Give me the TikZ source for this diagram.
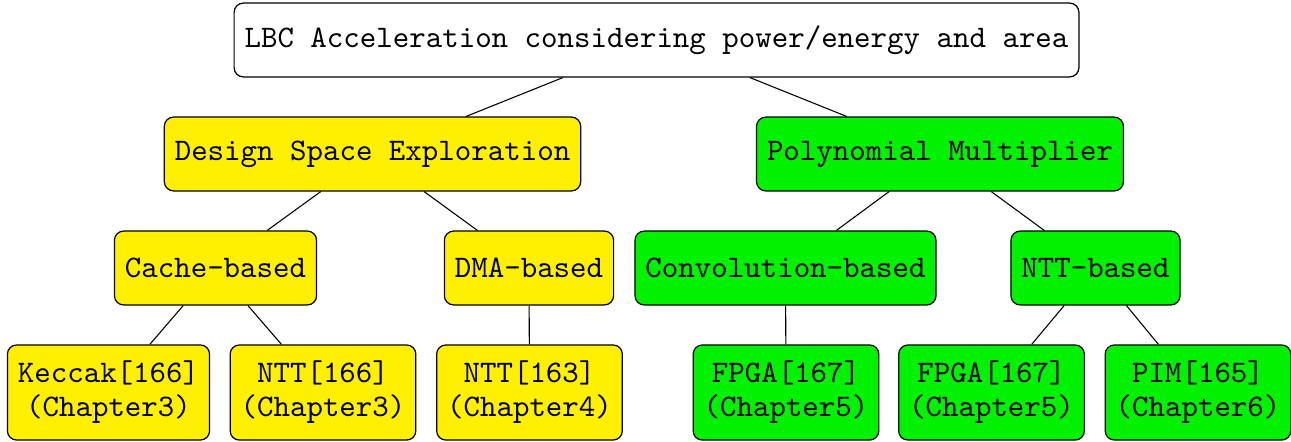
\documentclass[tikz,border=0pt]{standalone}
\usetikzlibrary{positioning}
\definecolor{boxyellow}{RGB}{255,240,0}
\definecolor{boxgreen}{RGB}{0,242,0}
\tikzset{
  box/.style={draw=black, rounded corners=3pt, inner xsep=3.4pt, inner ysep=0pt,
    minimum height=24pt, font=\fontsize{10.2}{11.1}\selectfont\ttfamily, align=center},
  rootbox/.style={box, fill=white},
  ybox/.style={box, fill=boxyellow},
  gbox/.style={box, fill=boxgreen},
  leaf/.style={minimum height=30.9pt},
  link/.style={draw=black, line width=0.35pt}
}
\begin{document}
\begin{tikzpicture}[x=0.325pt, y=-0.325pt]
\useasboundingbox (0,0) rectangle (1291,441);
% root
\node[rootbox] (root) at (656.5,40) {LBC Acceleration considering power/energy and area};
% second level
\node[ybox] (dse)  at (372.5,154) {Design Space Exploration};
\node[gbox] (poly) at (940,154) {Polynomial Multiplier};
% third level
\node[ybox] (cache) at (215.5,268) {Cache-based};
\node[ybox] (dma)   at (529,268) {DMA-based};
\node[gbox] (conv)  at (785.5,268) {Convolution-based};
\node[gbox] (nttb)  at (1095.5,268) {NTT-based};
% leaves
\node[ybox, leaf] (keccak) at (108.5,392.5) {Keccak[166]\\(Chapter3)};
\node[ybox, leaf] (ntta)   at (323,392.5) {NTT[166]\\(Chapter3)};
\node[ybox, leaf] (nttc)   at (529.5,392.5) {NTT[163]\\(Chapter4)};
\node[gbox, leaf] (fpgaa)  at (786,392.5) {FPGA[167]\\(Chapter5)};
\node[gbox, leaf] (fpgab)  at (991.5,392.5) {FPGA[167]\\(Chapter5)};
\node[gbox, leaf] (pim)    at (1198,392.5) {PIM[165]\\(Chapter6)};
% tree edges
\draw[link] (root) -- (dse);
\draw[link] (root) -- (poly);
\draw[link] (dse) -- (cache);
\draw[link] (dse) -- (dma);
\draw[link] (poly) -- (conv);
\draw[link] (poly) -- (nttb);
\draw[link] (cache) -- (keccak);
\draw[link] (cache) -- (ntta);
\draw[link] (dma) -- (nttc);
\draw[link] (conv) -- (fpgaa);
\draw[link] (nttb) -- (fpgab);
\draw[link] (nttb) -- (pim);
\end{tikzpicture}
\end{document}
